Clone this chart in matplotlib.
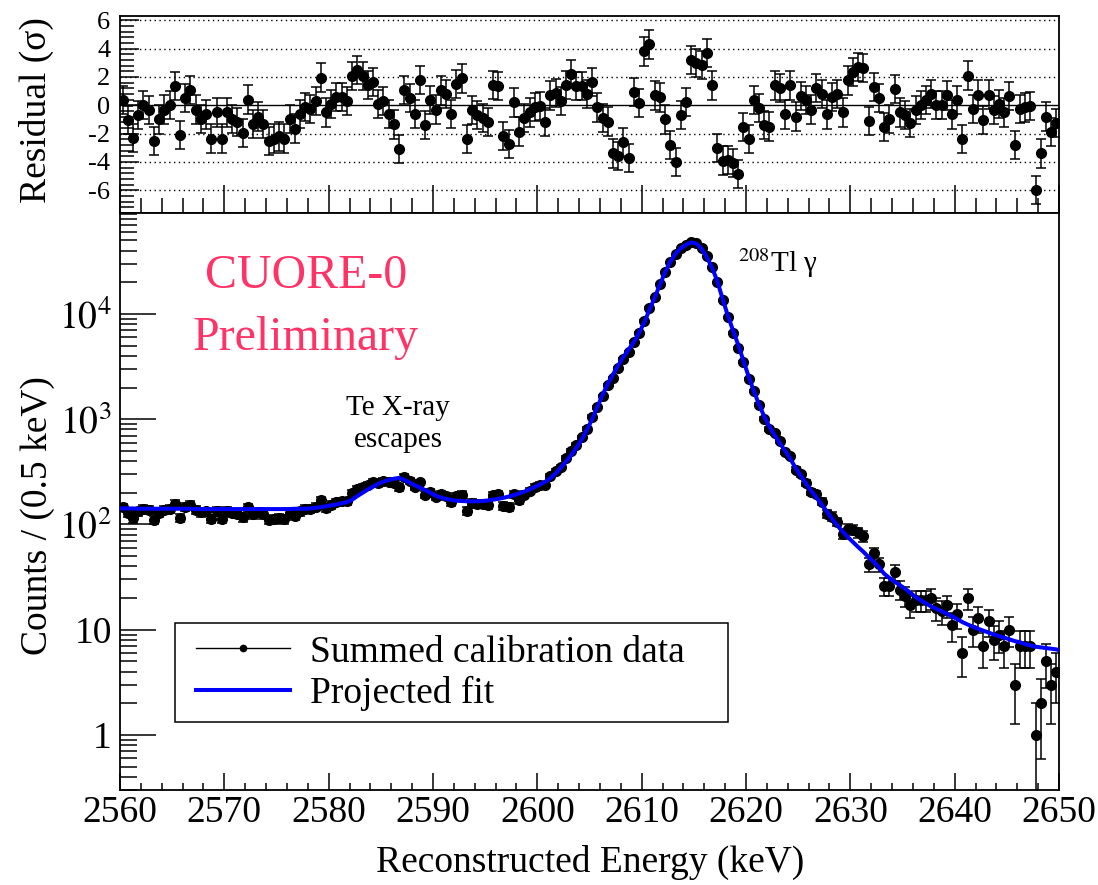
import numpy as np
import matplotlib
matplotlib.use("Agg")
import matplotlib.pyplot as plt
from matplotlib.ticker import MultipleLocator, FixedLocator, FixedFormatter, LogLocator, NullFormatter
from matplotlib.lines import Line2D
from matplotlib.patches import Rectangle

plt.rcParams['font.family'] = ['Liberation Serif', 'DejaVu Serif']
plt.rcParams['mathtext.fontset'] = 'stix'
plt.rcParams['axes.unicode_minus'] = False

# bin centres, 0.5 keV bins from 2560 to 2650 keV
energy = np.arange(2560.25, 2650.0, 0.5)

# summed calibration data (counts per bin)
counts = [
    145, 128, 114, 133, 141, 137, 111, 129, 137, 141,
    157, 116, 147, 154, 137, 130, 133, 113, 135, 113,
    134, 129, 126, 117, 145, 125, 131, 125, 111, 112,
    114, 112, 129, 121, 133, 140, 139, 148, 170, 143,
    153, 162, 167, 167, 197, 219, 229, 236, 255, 245,
    260, 255, 250, 225, 283, 258, 227, 251, 192, 205,
    184, 194, 186, 163, 187, 192, 135, 161, 157, 155,
    153, 191, 193, 150, 147, 193, 171, 192, 208, 225,
    239, 235, 287, 320, 351, 424, 502, 566, 674, 812,
    1052, 1295, 1663, 2116, 2475, 3045, 3738, 4349, 5470, 6612,
    8646, 11451, 14384, 19076, 24842, 31003, 36725, 41857, 45553, 48500,
    47147, 42081, 35187, 27732, 20070, 13539, 9321, 6661, 4754, 3507,
    2429, 1865, 1373, 1014, 806, 737, 619, 485, 449, 330,
    301, 250, 204, 196, 165, 126, 119, 106, 81, 91,
    89, 84, 77, 42, 53, 42, 26, 26, 35, 24,
    21, 17, 19, 19, 19, 20, 16, 15, 17, 11,
    14, 6, 20, 10, 13, 7, 12, 8, 9, 7,
    10, 3, 7, 7, 7, 1, 2, 5, 3, 4,
]

# projected fit evaluated at the bin centres
fit_counts = [
    142, 142, 142, 141, 141, 141, 141, 141, 141, 141,
    141, 141, 141, 141, 140, 140, 140, 140, 140, 140,
    140, 140, 140, 140, 140, 140, 140, 140, 140, 140,
    140, 140, 140, 141, 141, 141, 142, 144, 146, 149,
    152, 155, 159, 163, 172, 186, 200, 215, 228, 243,
    255, 265, 272, 277, 265, 250, 236, 224, 212, 200,
    188, 180, 175, 171, 168, 167, 166, 166, 166, 167,
    169, 172, 175, 179, 184, 190, 197, 205, 215, 227,
    240, 254, 275, 305, 345, 395, 455, 535, 640, 790,
    1000, 1300, 1700, 2170, 2650, 3250, 3900, 4600, 5400, 6600,
    8300, 11000, 14300, 19000, 25000, 31500, 37500, 42000, 45500, 47800,
    46500, 41500, 34500, 27500, 20500, 14000, 9700, 7000, 5100, 3600,
    2550, 1850, 1380, 1060, 850, 700, 590, 500, 420, 345,
    290, 245, 208, 180, 155, 133, 113, 98, 86, 76,
    68, 61, 55, 49, 44, 39, 34, 31, 28.5, 26.5,
    24.5, 22.5, 20.5, 19, 17.8, 16.6, 15.8, 15, 14.2, 13.4,
    12.6, 11.8, 11.2, 10.7, 10.2, 9.8, 9.4, 9.0, 8.7, 8.4,
    8.1, 7.8, 7.6, 7.3, 7.1, 6.9, 6.8, 6.7, 6.6, 6.5,
]
fit_start, fit_end = 142, 6.4

# residuals (data - fit) / sigma
residuals = [
    0.35, -1.06, -2.3, -0.7, 0.0, -0.35, -2.5, -1.0, -0.3, 0.0,
    1.35, -2.1, 0.5, 1.1, -0.3, -0.95, -0.65, -2.35, -0.5, -2.35,
    -0.5, -0.95, -1.2, -1.95, 0.4, -1.3, -0.8, -1.3, -2.5, -2.35,
    -2.2, -2.35, -0.95, -1.65, -0.6, -0.1, -0.25, 0.3, 1.95, -0.5,
    0.1, 0.6, 0.6, 0.3, 2.05, 2.5, 2.05, 1.45, 1.65, 0.1,
    0.3, -0.6, -1.35, -3.1, 1.1, 0.5, -0.6, 1.8, -1.4, 0.35,
    -0.3, 1.05, 0.8, -0.6, 1.5, 1.9, -2.4, -0.35, -0.7, -0.9,
    -1.2, 1.45, 1.35, -2.15, -2.75, 0.2, -1.85, -0.9, -0.5, -0.1,
    -0.05, -1.2, 0.7, 0.85, 0.3, 1.45, 2.2, 1.35, 1.35, 0.8,
    1.65, -0.15, -0.9, -1.15, -3.4, -3.6, -2.6, -3.7, 0.95, 0.15,
    3.8, 4.3, 0.7, 0.55, -1.0, -2.8, -4.0, -0.7, 0.25, 3.2,
    3.0, 2.85, 3.7, 1.4, -3.0, -3.9, -3.85, -4.05, -4.85, -1.55,
    -2.4, 0.35, -0.2, -1.4, -1.5, 1.4, 1.2, -0.65, 1.4, -0.8,
    0.65, 0.35, -0.3, 1.2, 0.8, -0.65, 0.6, 0.8, -0.5, 1.75,
    2.35, 2.7, 2.65, -1.1, 1.3, 0.5, -1.55, -0.95, 1.15, -0.5,
    -0.7, -1.25, -0.35, 0.0, 0.35, 0.8, 0.0, 0.0, 0.7, -0.65,
    0.35, -2.4, 2.1, -0.25, 0.75, -1.05, 0.75, -0.35, 0.1, -0.5,
    0.65, -2.8, -0.25, -0.15, -0.05, -6.0, -3.4, -0.8, -1.9, -1.25,
]

res_ticks = [-6, -4, -2, 0, 2, 4, 6]
res_grid = [-6, -4, -2, 2, 4, 6]
count_ticks = [1, 10, 100, 1000, 10000]
count_tick_labels = ['1', '10', r'$10^{2}$', r'$10^{3}$', r'$10^{4}$']
energy_ticks = [2560, 2570, 2580, 2590, 2600, 2610, 2620, 2630, 2640, 2650]

W, H = 1098, 885
fig = plt.figure(figsize=(W / 100, H / 100), dpi=100)
L, R = 120 / W, 1059 / W
ax_res = fig.add_axes([L, 1 - 213 / H, R - L, (213 - 16) / H])
ax = fig.add_axes([L, 1 - 790 / H, R - L, (790 - 213) / H])

for a in (ax_res, ax):
    for s in a.spines.values():
        s.set_linewidth(1.3)

# ---- residual panel
for g in res_grid:
    ax_res.axhline(g, color='black', lw=1.0, ls=(0, (1, 2.5)), zorder=1)
ax_res.axhline(0, color='black', lw=1.0, zorder=1)
ax_res.errorbar(energy, residuals, yerr=1.0, fmt='o', color='black', ms=7,
                elinewidth=1.1, capsize=3.5, capthick=1.1, zorder=3)
ax_res.set_xlim(2560, 2650)
ax_res.set_ylim(-7.6, 6.3)
ax_res.xaxis.set_major_locator(FixedLocator(energy_ticks))
ax_res.xaxis.set_minor_locator(MultipleLocator(2))
ax_res.yaxis.set_major_locator(FixedLocator(res_ticks))
ax_res.yaxis.set_minor_locator(MultipleLocator(0.4))
ax_res.tick_params(axis='x', which='both', direction='in', top=False, labelbottom=False, width=1.1)
ax_res.tick_params(axis='x', which='major', length=20)
ax_res.tick_params(axis='x', which='minor', length=11)
ax_res.tick_params(axis='y', which='both', direction='in', right=False, width=1.1, labelsize=19, pad=7)
ax_res.tick_params(axis='y', which='major', length=13.7)
ax_res.tick_params(axis='y', which='minor', length=10)

# ---- spectrum panel
ax.errorbar(energy, counts, yerr=np.sqrt(counts), fmt='o', color='black', ms=7,
            elinewidth=1.1, capsize=3.5, capthick=1.1, zorder=3)
fit_x = np.concatenate(([2560.0], energy, [2650.0]))
fit_y = np.concatenate(([fit_start], fit_counts, [fit_end]))
ax.plot(fit_x, fit_y, color='blue', lw=2.9, zorder=4)
ax.set_yscale('log')
ax.set_xlim(2560, 2650)
ax.set_ylim(0.30, 9.1e4)
ax.xaxis.set_major_locator(FixedLocator(energy_ticks))
ax.xaxis.set_minor_locator(MultipleLocator(2))
ax.yaxis.set_major_locator(FixedLocator(count_ticks))
ax.yaxis.set_major_formatter(FixedFormatter(count_tick_labels))
ax.yaxis.set_minor_locator(LogLocator(base=10, subs=np.arange(2, 10)))
ax.yaxis.set_minor_formatter(NullFormatter())
ax.tick_params(axis='x', which='both', direction='in', top=False, width=1.1, labelsize=27, pad=4)
ax.tick_params(axis='x', which='major', length=12)
ax.tick_params(axis='x', which='minor', length=5.3)
ax.tick_params(axis='y', which='both', direction='in', right=False, width=1.1, labelsize=27, pad=6)
ax.tick_params(axis='y', which='major', length=26)
ax.tick_params(axis='y', which='minor', length=12)

# axis titles
fig.text(36 / W, 1 - 110 / H, 'Residual (σ)', rotation=90, ha='center', va='center', fontsize=27)
fig.text(38 / W, 1 - 516 / H, 'Counts / (0.5 keV)', rotation=90, ha='center', va='center', fontsize=27)
fig.text(590 / W, 1 - 862 / H, 'Reconstructed Energy (keV)', ha='center', va='center', fontsize=27)

# annotations
pink = '#ff3366'
fig.text(306 / W, 1 - 276 / H, 'CUORE-0', color=pink, ha='center', va='center', fontsize=34.5)
fig.text(306 / W, 1 - 338 / H, 'Preliminary', color=pink, ha='center', va='center', fontsize=34.5)
fig.text(398 / W, 1 - 415 / H, 'Te X-ray', ha='center', va='baseline', fontsize=21)
fig.text(398 / W, 1 - 447 / H, 'escapes', ha='center', va='baseline', fontsize=21)
fig.text(738 / W, 1 - 272 / H, r'$^{208}$Tl γ', ha='left', va='baseline', fontsize=21)

# legend: ROOT-style fixed box, entries placed inside it
ax.add_patch(Rectangle((175 / W, 1 - 722 / H), (728 - 175) / W, (722 - 623) / H,
                       transform=fig.transFigure, facecolor='white', edgecolor='black',
                       lw=1.1, zorder=5, clip_on=False))
handles = [Line2D([], [], color='black', lw=1.0, marker='o', ms=4.5),
           Line2D([], [], color='blue', lw=2.9)]
leg = ax.legend(handles, ['Summed calibration data', 'Projected fit'],
                loc='upper left', bbox_to_anchor=(196 / W, 1 - 635 / H),
                bbox_transform=fig.transFigure, fontsize=27, frameon=False,
                handlelength=2.5, handletextpad=0.55, borderpad=0,
                labelspacing=0.18, borderaxespad=0)
leg.set_zorder(6)

fig.savefig('out.png', dpi=100)
